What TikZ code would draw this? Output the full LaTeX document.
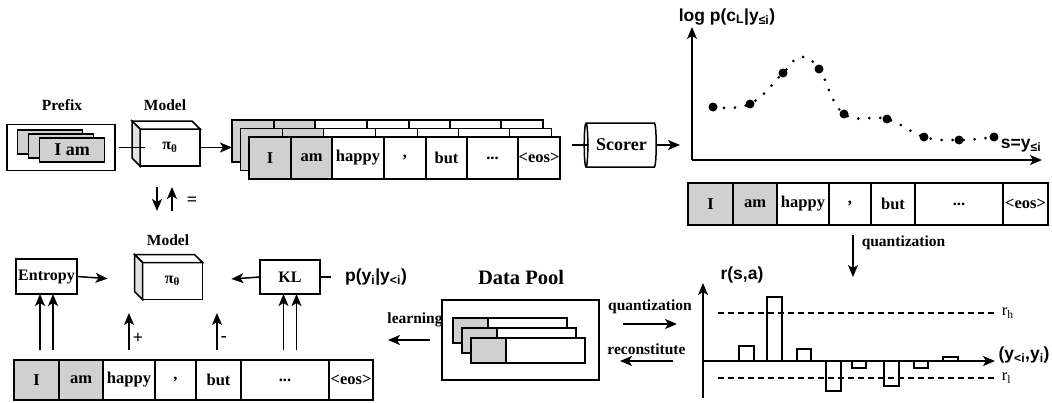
\documentclass[tikz,border=0pt]{standalone}
\usepackage{fontspec}
\setmainfont{Liberation Serif}
\setsansfont{Liberation Sans}
\usepackage{tikz}
\usetikzlibrary{arrows.meta}
\usetikzlibrary{calc}
\usetikzlibrary{shapes.geometric}

\definecolor{tokgray}{RGB}{208,208,208}
\definecolor{sidegray}{RGB}{226,226,226}

\newcommand{\tokdots}{...}
% top and side faces of a model block
\newcommand{\cubefaces}[1]{%
	\draw[fill=white] (#1.north west) -- ++(-8,-8) -- ($(#1.north east)+(-8,-8)$) -- (#1.north east) -- cycle;
	\draw[fill=sidegray] (#1.north west) -- ++(-8,-8) -- ($(#1.south west)+(-8,-8)$) -- (#1.south west) -- cycle;}

\begin{document}
\begin{tikzpicture}[x=1pt,y=-1pt,line width=1.5pt,
		>={Stealth[length=12pt,width=10pt,inset=3pt]},
		lbl/.style={font=\fontsize{15.5}{18}\selectfont\bfseries,inner sep=1pt},
		sgn/.style={font=\fontsize{18}{20}\selectfont\bfseries,inner sep=1pt},
		tok/.style={draw,inner sep=0pt,outer sep=0pt,minimum height=42,
			font=\fontsize{16.5}{19}\selectfont\bfseries},
		cube/.style={draw,fill=white,inner sep=0pt,outer sep=0pt,
			minimum width=60,minimum height=37,font=\fontsize{16}{19}\selectfont\bfseries},
		box/.style={draw,fill=white,inner sep=0pt,outer sep=0pt,
			font=\fontsize{16}{19}\selectfont\bfseries},
		axl/.style={font=\sffamily\bfseries\fontsize{17.5}{20}\selectfont,inner sep=0pt},
		up/.style={->,shorten <=10pt}]
	
	\useasboundingbox (0,0) rectangle (1052,402);
	
	% prefix and policy model
	\node[lbl] (pfxlab) at (62,105) {Prefix};
	\node[draw,inner sep=0pt,outer sep=0pt,minimum width=108,minimum height=46] (pfx) at (61,147.5) {};
	\node[box,fill=tokgray,minimum width=65,minimum height=24] (pc1) at (50,142) {};
	\node[box,fill=tokgray,minimum width=65,minimum height=24] (pc2) at (61,146) {};
	\node[box,fill=tokgray,minimum width=65,minimum height=24,
		font=\fontsize{18}{20}\selectfont\bfseries] (pc3) at (72,150) {I am};
	\node[lbl] (mlab1) at (165,105) {Model};
	\node[cube] (mtop) at (170,147.5) {π\textsubscript{θ}};
	\cubefaces{mtop}
	
	% sampled responses
	\foreach \d/\nm in {0/a,8.5/b} {
		\foreach \xa/\xb/\c [count=\k] in {0/42/tokgray,42/83/tokgray,83/135/white,135/177/white,
			177/218/white,218/269/white,269/311/white}
		\node[tok,fill=\c,minimum width=\xb-\xa] (\nm\k) at ({232+\d+(\xa+\xb)/2},{141+\d}) {};
	}
	\foreach \xa/\xb/\c/\t [count=\k] in {0/42/tokgray/I,42/83/tokgray/am,83/135/white/happy,
		135/177/white/{,},177/218/white/but,218/269/white/\tokdots,269/311/white/<eos>}
	\node[tok,fill=\c,minimum width=\xb-\xa] (f\k) at ({249+(\xa+\xb)/2},158) {\t};
	
	\node[cylinder,shape border rotate=180,draw,aspect=0.3,minimum height=72,minimum width=44,
		inner sep=0pt,font=\fontsize{18}{20}\selectfont\bfseries] (scorer) at (621.5,145) {Scorer};
	
	% score curve
	\coordinate (po) at (692,160);
	\coordinate (pytip) at (692,27);
	\coordinate (pxtip) at (1042,160);
	\draw[->] (po) -- (pytip);
	\draw[->] (po) -- (pxtip);
	\node[axl] (ylab) at (727,17) {log p(c\textsubscript{L}|y\textsubscript{≤i})};
	\node[axl] (xlab) at (1021,146) {s=y\textsubscript{≤i}};
	\draw[line width=3pt,line cap=round,dash pattern=on 0pt off 11pt]
	plot[smooth,tension=0.7] coordinates {(713,107) (750,104) (783,73) (800,57) (819,69)
		(844,114) (887,119) (924,137) (959,140) (994,137)};
	\foreach \px/\py in {713/107,750/104,783/73,819/69,844/114,887/119,924/137,959/140,994/137}
	\fill (\px,\py) circle (4.5);
	
	% scored response
	\foreach \xa/\xb/\c/\t [count=\k] in {688/733/tokgray/I,733/777/tokgray/am,777/829/white/happy,
		829/871/white/{,},871/915/white/but,915/1003/white/\tokdots,1003/1048/white/<eos>}
	\node[tok,fill=\c,minimum width=\xb-\xa] (r\k) at ({(\xa+\xb)/2},204) {\t};
	
	% quantized rewards
	\draw[->] (703,398) -- (703,283);
	\draw[->] (703,361) -- (995,361);
	\node[axl] (rlab) at (742,275) {r(s,a)};
	\node[axl] (alab) at (1024,355) {(y\textsubscript{<i},y\textsubscript{i})};
	\draw[line width=1.1pt,dash pattern=on 6pt off 4pt] (718,313) -- (998,313)
	node[right,font=\fontsize{16.5}{19}\selectfont] {r\textsubscript{h}};
	\draw[line width=1.1pt,dash pattern=on 6pt off 4pt] (718,378) -- (998,378)
	node[right,font=\fontsize{16.5}{19}\selectfont] {r\textsubscript{l}};
	\foreach \xa/\xb/\yb in {739/754/346,767/782/297,797/811/349,826/841/391,
		852/866/368,884/899/386,914/928/368,943/958/357}
	\draw[line width=1.3pt] (\xa,361) rectangle (\xb,\yb);
	
	% learning side
	\node[box,minimum width=61,minimum height=35] (ent) at (46.5,276.5) {Entropy};
	\node[lbl] (mlab2) at (168,240) {Model};
	\node[cube] (mbot) at (172.5,281) {π\textsubscript{θ}};
	\cubefaces{mbot}
	\node[box,minimum width=60,minimum height=34] (kl) at (290,277) {KL};
	\node[axl] (plab) at (376,277) {p(y\textsubscript{i}|y\textsubscript{<i})};
	\foreach \xa/\xb/\c/\t [count=\k] in {14/59/tokgray/I,59/103/tokgray/am,103/155/white/happy,
		155/196/white/{,},196/241/white/but,241/329/white/\tokdots,329/373/white/<eos>}
	\node[tok,fill=\c,minimum height=40,minimum width=\xb-\xa] (b\k) at ({(\xa+\xb)/2},380) {\t};
	
	% data pool
	\node[lbl,font=\fontsize{20.5}{23}\selectfont\bfseries] (poollab) at (521,277) {Data Pool};
	\node[draw,inner sep=0pt,outer sep=0pt,minimum width=157,minimum height=80] (pool) at (520.5,340) {};
	\foreach \d in {0,1,2} {
		\draw[fill=white] ({453+9*\d},{318+10*\d}) rectangle ++(114,25);
		\draw[fill=tokgray] ({453+9*\d},{318+10*\d}) rectangle ++(35,25);
	}
	\coordinate (lrn) at (388,340);
	
	% connectors
	\draw[shorten <=4pt,shorten >=-5pt] (pfx.east) -- (mtop.west);
	\draw[->] (mtop.east) -- (mtop.east -| a1.west);
	\draw ([xshift=-11pt]scorer.west) -- ([xshift=6pt]scorer.west);
	\draw[->,shorten >=12pt] (scorer.east) -- (scorer.east -| po);
	\draw[->,shorten <=10pt] ([xshift=3pt]r4.south) -- ++(0,52)
	node[pos=0.35,right=7pt,lbl] {quantization};
	\draw[->] ([xshift=-13pt,yshift=-21pt]mtop.south) -- ++(0,24);
	\draw[->] ([xshift=2pt,yshift=-45pt]mtop.south) -- ++(0,-24);
	\node[sgn] (eq) at (192,201) {=};
	\draw[->,shorten >=35pt] (ent.east) -- (mbot.west);
	\draw[->,shorten >=29pt] (kl.west) -- (mbot.east);
	\draw[shorten >=13pt] (kl.east) -- (plab.west);
	\draw[up] ([xshift=-6.5pt]ent.south |- b1.north) -- ([xshift=-6.5pt]ent.south);
	\draw[up] ([xshift=6.5pt]ent.south |- b1.north) -- ([xshift=6.5pt]ent.south);
	\draw[up] ([xshift=-6.5pt]kl.south |- b6.north) -- ([xshift=-6.5pt]kl.south);
	\draw[up] ([xshift=6.5pt]kl.south |- b6.north) -- ([xshift=6.5pt]kl.south);
	\draw[up] (b3.north) -- ++(0,-47) node[pos=0.45,right=2pt,sgn] {+};
	\draw[up] ([xshift=-1.5pt]b5.north) -- ++(0,-47) node[pos=0.45,right=2pt,sgn] {-};
	\draw[->,shorten <=12pt] (pool.west) -- (lrn) node[midway,above=11pt,lbl] {learning};
	\draw[->] ([xshift=24pt,yshift=16pt]pool.east) -- ++(54,0)
	node[midway,above=8pt,lbl] {quantization};
	\draw[->] ([xshift=74pt,yshift=-21pt]pool.east) -- ++(-53,0)
	node[midway,above=5pt,lbl] {reconstitute};
\end{tikzpicture}
\end{document}
